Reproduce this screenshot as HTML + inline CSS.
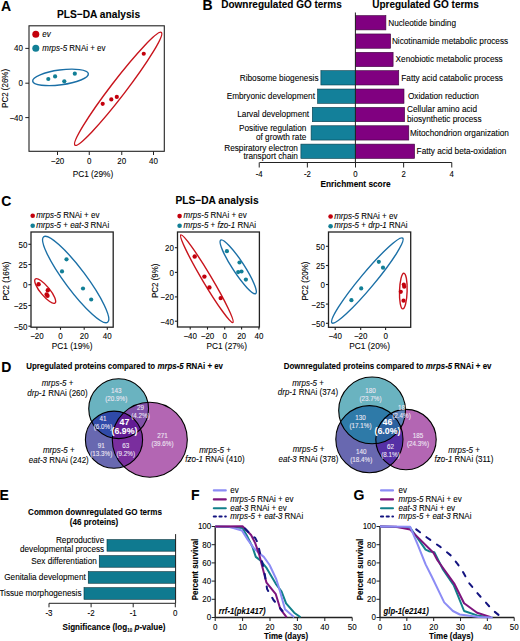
<!DOCTYPE html>
<html><head><meta charset="utf-8"><style>
html,body{margin:0;padding:0;background:#fff;}
svg{display:block;font-family:"Liberation Sans", sans-serif;}
text{font-family:"Liberation Sans", sans-serif;}
</style></head><body>
<svg width="520" height="641" viewBox="0 0 520 641">
<rect width="520" height="641" fill="#fff"/>
<text transform="translate(1.00 10.50) scale(1 1.1)" font-size="14" text-anchor="start" font-weight="bold" fill="#000" stroke="#000" stroke-width="0.08" ><tspan>A</tspan></text>
<text transform="translate(202.60 10.30) scale(1 1.1)" font-size="14" text-anchor="start" font-weight="bold" fill="#000" stroke="#000" stroke-width="0.08" ><tspan>B</tspan></text>
<text transform="translate(1.20 206.30) scale(1 1.1)" font-size="14" text-anchor="start" font-weight="bold" fill="#000" stroke="#000" stroke-width="0.08" ><tspan>C</tspan></text>
<text transform="translate(1.30 371.80) scale(1 1.1)" font-size="14" text-anchor="start" font-weight="bold" fill="#000" stroke="#000" stroke-width="0.08" ><tspan>D</tspan></text>
<text transform="translate(-0.60 500.30) scale(1 1.1)" font-size="14" text-anchor="start" font-weight="bold" fill="#000" stroke="#000" stroke-width="0.08" ><tspan>E</tspan></text>
<text transform="translate(191.10 500.00) scale(1 1.1)" font-size="14" text-anchor="start" font-weight="bold" fill="#000" stroke="#000" stroke-width="0.08" ><tspan>F</tspan></text>
<text transform="translate(353.50 500.30) scale(1 1.1)" font-size="14" text-anchor="start" font-weight="bold" fill="#000" stroke="#000" stroke-width="0.08" ><tspan>G</tspan></text>
<text transform="translate(98.50 17.80) scale(1 1.1)" font-size="10.2" text-anchor="middle" font-weight="bold" fill="#000" stroke="#000" stroke-width="0.08" ><tspan>PLS−DA analysis</tspan></text>
<rect x="29" y="25.8" width="135.3" height="125.5" fill="none" stroke="#222" stroke-width="1.1"/>
<line x1="25.3" y1="48.4" x2="29" y2="48.4" stroke="#222" stroke-width="1" />
<text transform="translate(23.00 51.30) scale(1 1.1)" font-size="8" text-anchor="end" font-weight="normal" fill="#000" stroke="#000" stroke-width="0.08" ><tspan>40</tspan></text>
<line x1="25.3" y1="83.2" x2="29" y2="83.2" stroke="#222" stroke-width="1" />
<text transform="translate(23.00 86.10) scale(1 1.1)" font-size="8" text-anchor="end" font-weight="normal" fill="#000" stroke="#000" stroke-width="0.08" ><tspan>0</tspan></text>
<line x1="25.3" y1="117.6" x2="29" y2="117.6" stroke="#222" stroke-width="1" />
<text transform="translate(23.00 120.50) scale(1 1.1)" font-size="8" text-anchor="end" font-weight="normal" fill="#000" stroke="#000" stroke-width="0.08" ><tspan>−40</tspan></text>
<line x1="57.5" y1="151.3" x2="57.5" y2="155" stroke="#222" stroke-width="1" />
<text transform="translate(57.50 163.80) scale(1 1.1)" font-size="8" text-anchor="middle" font-weight="normal" fill="#000" stroke="#000" stroke-width="0.08" ><tspan>−20</tspan></text>
<line x1="89.25" y1="151.3" x2="89.25" y2="155" stroke="#222" stroke-width="1" />
<text transform="translate(89.25 163.80) scale(1 1.1)" font-size="8" text-anchor="middle" font-weight="normal" fill="#000" stroke="#000" stroke-width="0.08" ><tspan>0</tspan></text>
<line x1="121.75" y1="151.3" x2="121.75" y2="155" stroke="#222" stroke-width="1" />
<text transform="translate(121.75 163.80) scale(1 1.1)" font-size="8" text-anchor="middle" font-weight="normal" fill="#000" stroke="#000" stroke-width="0.08" ><tspan>20</tspan></text>
<line x1="153.5" y1="151.3" x2="153.5" y2="155" stroke="#222" stroke-width="1" />
<text transform="translate(153.50 163.80) scale(1 1.1)" font-size="8" text-anchor="middle" font-weight="normal" fill="#000" stroke="#000" stroke-width="0.08" ><tspan>40</tspan></text>
<text transform="translate(92.90 177.00) scale(1 1.1)" font-size="8.3" text-anchor="middle" font-weight="normal" fill="#000" stroke="#000" stroke-width="0.08" ><tspan>PC1 (29%)</tspan></text>
<text transform="rotate(-90 5.00 88.40) translate(5.00 91.30) scale(1 1.1)" font-size="8" text-anchor="middle" font-weight="normal" fill="#000" stroke="#000" stroke-width="0.08" ><tspan>PC2 (26%)</tspan></text>
<circle cx="35.8" cy="34.2" r="3.5" fill="#c3000c" stroke="none" stroke-width="0"/>
<text transform="translate(42.30 36.90) scale(1 1.1)" font-size="8" text-anchor="start" font-weight="normal" fill="#000" stroke="#000" stroke-width="0.08" ><tspan font-style="italic">ev</tspan></text>
<circle cx="35.8" cy="48.2" r="3.5" fill="#127f96" stroke="none" stroke-width="0"/>
<text transform="translate(42.30 50.80) scale(1 1.1)" font-size="8" text-anchor="start" font-weight="normal" fill="#000" stroke="#000" stroke-width="0.08" ><tspan font-style="italic">mrps-5</tspan><tspan> RNAi + ev</tspan></text>
<ellipse cx="118.18" cy="88.83" rx="71.04" ry="7.55" transform="rotate(-52.53 118.18 88.83)" fill="none" stroke="#c8141c" stroke-width="1.4"/>
<ellipse cx="60.52" cy="77.4" rx="28.06" ry="7.42" transform="rotate(-7.47 60.52 77.4)" fill="none" stroke="#1a6fa6" stroke-width="1.4"/>
<circle cx="102.7" cy="103.8" r="2.1" fill="#c3000c" stroke="none" stroke-width="0"/>
<circle cx="111.3" cy="99.4" r="2.1" fill="#c3000c" stroke="none" stroke-width="0"/>
<circle cx="116.8" cy="96.9" r="2.1" fill="#c3000c" stroke="none" stroke-width="0"/>
<circle cx="143.75" cy="53.75" r="2.1" fill="#c3000c" stroke="none" stroke-width="0"/>
<circle cx="48.3" cy="79" r="2.1" fill="#127f96" stroke="none" stroke-width="0"/>
<circle cx="55.1" cy="76.4" r="2.1" fill="#127f96" stroke="none" stroke-width="0"/>
<circle cx="64.3" cy="81.3" r="2.1" fill="#127f96" stroke="none" stroke-width="0"/>
<circle cx="74.8" cy="73.7" r="2.1" fill="#127f96" stroke="none" stroke-width="0"/>
<text transform="translate(221.25 7.60) scale(1 1.1)" font-size="10" text-anchor="start" font-weight="bold" fill="#000" stroke="#000" stroke-width="0.08" ><tspan>Downregulated GO terms</tspan></text>
<text transform="translate(372.20 8.20) scale(1 1.1)" font-size="10" text-anchor="start" font-weight="bold" fill="#000" stroke="#000" stroke-width="0.08" ><tspan>Upregulated GO terms</tspan></text>
<rect x="355.4" y="15.6" width="30.5" height="14.3" fill="#800080" stroke="#3a003a" stroke-width="0.6"/>
<text transform="translate(388.20 25.65) scale(1 1.1)" font-size="8.25" text-anchor="start" font-weight="normal" fill="#000" stroke="#000" stroke-width="0.08" ><tspan>Nucleotide binding</tspan></text>
<rect x="355.4" y="33.96" width="35.200000000000045" height="14.3" fill="#800080" stroke="#3a003a" stroke-width="0.6"/>
<text transform="translate(391.90 44.01) scale(1 1.1)" font-size="8.25" text-anchor="start" font-weight="normal" fill="#000" stroke="#000" stroke-width="0.08" ><tspan>Nicotinamide metabolic process</tspan></text>
<rect x="355.4" y="52.32" width="37.700000000000045" height="14.3" fill="#800080" stroke="#3a003a" stroke-width="0.6"/>
<text transform="translate(395.60 62.37) scale(1 1.1)" font-size="8.25" text-anchor="start" font-weight="normal" fill="#000" stroke="#000" stroke-width="0.08" ><tspan>Xenobiotic metabolic process</tspan></text>
<rect x="355.4" y="70.67999999999999" width="43.35000000000002" height="14.3" fill="#800080" stroke="#3a003a" stroke-width="0.6"/>
<text transform="translate(401.30 80.73) scale(1 1.1)" font-size="8.25" text-anchor="start" font-weight="normal" fill="#000" stroke="#000" stroke-width="0.08" ><tspan>Fatty acid catabolic process</tspan></text>
<rect x="355.4" y="89.03999999999999" width="48.60000000000002" height="14.3" fill="#800080" stroke="#3a003a" stroke-width="0.6"/>
<text transform="translate(407.90 99.09) scale(1 1.1)" font-size="8.25" text-anchor="start" font-weight="normal" fill="#000" stroke="#000" stroke-width="0.08" ><tspan>Oxidation reduction</tspan></text>
<rect x="355.4" y="107.39999999999999" width="49.200000000000045" height="14.3" fill="#800080" stroke="#3a003a" stroke-width="0.6"/>
<text transform="translate(407.00 112.10) scale(1 1.1)" font-size="8.25" text-anchor="start" font-weight="normal" fill="#000" stroke="#000" stroke-width="0.08" ><tspan>Cellular amino acid</tspan></text>
<text transform="translate(407.00 121.50) scale(1 1.1)" font-size="8.25" text-anchor="start" font-weight="normal" fill="#000" stroke="#000" stroke-width="0.08" ><tspan>biosynthetic process</tspan></text>
<rect x="355.4" y="125.75999999999999" width="53.400000000000034" height="14.3" fill="#800080" stroke="#3a003a" stroke-width="0.6"/>
<text transform="translate(410.00 135.81) scale(1 1.1)" font-size="8.25" text-anchor="start" font-weight="normal" fill="#000" stroke="#000" stroke-width="0.08" ><tspan>Mitochondrion organization</tspan></text>
<rect x="355.4" y="144.11999999999998" width="59.200000000000045" height="14.3" fill="#800080" stroke="#3a003a" stroke-width="0.6"/>
<text transform="translate(416.60 154.17) scale(1 1.1)" font-size="8.25" text-anchor="start" font-weight="normal" fill="#000" stroke="#000" stroke-width="0.08" ><tspan>Fatty acid beta-oxidation</tspan></text>
<rect x="320.9" y="70.67999999999999" width="34.5" height="14.3" fill="#13809a" stroke="#063a48" stroke-width="0.6"/>
<text transform="translate(318.50 80.73) scale(1 1.1)" font-size="8.25" text-anchor="end" font-weight="normal" fill="#000" stroke="#000" stroke-width="0.08" ><tspan>Ribosome biogenesis</tspan></text>
<rect x="317.6" y="89.03999999999999" width="37.799999999999955" height="14.3" fill="#13809a" stroke="#063a48" stroke-width="0.6"/>
<text transform="translate(315.00 99.09) scale(1 1.1)" font-size="8.25" text-anchor="end" font-weight="normal" fill="#000" stroke="#000" stroke-width="0.08" ><tspan>Embryonic development</tspan></text>
<rect x="312.3" y="107.39999999999999" width="43.099999999999966" height="14.3" fill="#13809a" stroke="#063a48" stroke-width="0.6"/>
<text transform="translate(309.10 117.45) scale(1 1.1)" font-size="8.25" text-anchor="end" font-weight="normal" fill="#000" stroke="#000" stroke-width="0.08" ><tspan>Larval development</tspan></text>
<rect x="311.1" y="125.75999999999999" width="44.299999999999955" height="14.3" fill="#13809a" stroke="#063a48" stroke-width="0.6"/>
<text transform="translate(306.30 131.20) scale(1 1.1)" font-size="8.25" text-anchor="end" font-weight="normal" fill="#000" stroke="#000" stroke-width="0.08" ><tspan>Positive regulation</tspan></text>
<text transform="translate(306.30 139.80) scale(1 1.1)" font-size="8.25" text-anchor="end" font-weight="normal" fill="#000" stroke="#000" stroke-width="0.08" ><tspan>of growth rate</tspan></text>
<rect x="300.9" y="144.11999999999998" width="54.5" height="14.3" fill="#13809a" stroke="#063a48" stroke-width="0.6"/>
<text transform="translate(297.90 150.80) scale(1 1.1)" font-size="8.25" text-anchor="end" font-weight="normal" fill="#000" stroke="#000" stroke-width="0.08" ><tspan>Respiratory electron</tspan></text>
<text transform="translate(297.90 159.40) scale(1 1.1)" font-size="8.25" text-anchor="end" font-weight="normal" fill="#000" stroke="#000" stroke-width="0.08" ><tspan>transport chain</tspan></text>
<line x1="355.4" y1="12.5" x2="355.4" y2="162.5" stroke="#222" stroke-width="1" />
<line x1="259.5" y1="162.5" x2="451.75" y2="162.5" stroke="#222" stroke-width="1" />
<line x1="259.22" y1="162.5" x2="259.22" y2="167.5" stroke="#222" stroke-width="1" />
<text transform="translate(259.22 176.50) scale(1 1.1)" font-size="7.8" text-anchor="middle" font-weight="normal" fill="#000" stroke="#000" stroke-width="0.08" ><tspan>-4</tspan></text>
<line x1="307.36" y1="162.5" x2="307.36" y2="167.5" stroke="#222" stroke-width="1" />
<text transform="translate(307.36 176.50) scale(1 1.1)" font-size="7.8" text-anchor="middle" font-weight="normal" fill="#000" stroke="#000" stroke-width="0.08" ><tspan>-2</tspan></text>
<line x1="355.5" y1="162.5" x2="355.5" y2="167.5" stroke="#222" stroke-width="1" />
<text transform="translate(355.50 176.50) scale(1 1.1)" font-size="7.8" text-anchor="middle" font-weight="normal" fill="#000" stroke="#000" stroke-width="0.08" ><tspan>0</tspan></text>
<line x1="403.64" y1="162.5" x2="403.64" y2="167.5" stroke="#222" stroke-width="1" />
<text transform="translate(403.64 176.50) scale(1 1.1)" font-size="7.8" text-anchor="middle" font-weight="normal" fill="#000" stroke="#000" stroke-width="0.08" ><tspan>2</tspan></text>
<line x1="451.78" y1="162.5" x2="451.78" y2="167.5" stroke="#222" stroke-width="1" />
<text transform="translate(451.78 176.50) scale(1 1.1)" font-size="7.8" text-anchor="middle" font-weight="normal" fill="#000" stroke="#000" stroke-width="0.08" ><tspan>4</tspan></text>
<text transform="translate(355.50 187.30) scale(1 1.1)" font-size="8.3" text-anchor="middle" font-weight="bold" fill="#000" stroke="#000" stroke-width="0.08" ><tspan>Enrichment score</tspan></text>
<text transform="translate(217.00 204.30) scale(1 1.1)" font-size="10.2" text-anchor="middle" font-weight="bold" fill="#000" stroke="#000" stroke-width="0.08" ><tspan>PLS−DA analysis</tspan></text>
<rect x="31" y="232" width="82.2" height="95.19999999999999" fill="none" stroke="#222" stroke-width="1.3"/>
<line x1="28.4" y1="244.3" x2="31" y2="244.3" stroke="#222" stroke-width="1.1" />
<text transform="translate(27.40 247.70) scale(1 1.1)" font-size="8" text-anchor="end" font-weight="normal" fill="#000" stroke="#000" stroke-width="0.08" ><tspan>50</tspan></text>
<line x1="28.4" y1="264.5" x2="31" y2="264.5" stroke="#222" stroke-width="1.1" />
<text transform="translate(27.40 267.90) scale(1 1.1)" font-size="8" text-anchor="end" font-weight="normal" fill="#000" stroke="#000" stroke-width="0.08" ><tspan>25</tspan></text>
<line x1="28.4" y1="284.7" x2="31" y2="284.7" stroke="#222" stroke-width="1.1" />
<text transform="translate(27.40 288.10) scale(1 1.1)" font-size="8" text-anchor="end" font-weight="normal" fill="#000" stroke="#000" stroke-width="0.08" ><tspan>0</tspan></text>
<line x1="28.4" y1="305.5" x2="31" y2="305.5" stroke="#222" stroke-width="1.1" />
<text transform="translate(27.40 308.90) scale(1 1.1)" font-size="8" text-anchor="end" font-weight="normal" fill="#000" stroke="#000" stroke-width="0.08" ><tspan>−25</tspan></text>
<line x1="28.4" y1="326.2" x2="31" y2="326.2" stroke="#222" stroke-width="1.1" />
<text transform="translate(27.40 329.60) scale(1 1.1)" font-size="8" text-anchor="end" font-weight="normal" fill="#000" stroke="#000" stroke-width="0.08" ><tspan>−50</tspan></text>
<line x1="36.9" y1="327.2" x2="36.9" y2="329.8" stroke="#222" stroke-width="1.1" />
<text transform="translate(36.90 338.80) scale(1 1.1)" font-size="8" text-anchor="middle" font-weight="normal" fill="#000" stroke="#000" stroke-width="0.08" ><tspan>−20</tspan></text>
<line x1="60.5" y1="327.2" x2="60.5" y2="329.8" stroke="#222" stroke-width="1.1" />
<text transform="translate(60.50 338.80) scale(1 1.1)" font-size="8" text-anchor="middle" font-weight="normal" fill="#000" stroke="#000" stroke-width="0.08" ><tspan>0</tspan></text>
<line x1="84.2" y1="327.2" x2="84.2" y2="329.8" stroke="#222" stroke-width="1.1" />
<text transform="translate(84.20 338.80) scale(1 1.1)" font-size="8" text-anchor="middle" font-weight="normal" fill="#000" stroke="#000" stroke-width="0.08" ><tspan>20</tspan></text>
<line x1="107.3" y1="327.2" x2="107.3" y2="329.8" stroke="#222" stroke-width="1.1" />
<text transform="translate(107.30 338.80) scale(1 1.1)" font-size="8" text-anchor="middle" font-weight="normal" fill="#000" stroke="#000" stroke-width="0.08" ><tspan>40</tspan></text>
<text transform="translate(72.10 348.80) scale(1 1.1)" font-size="8.3" text-anchor="middle" font-weight="normal" fill="#000" stroke="#000" stroke-width="0.08" ><tspan>PC1 (19%)</tspan></text>
<text transform="rotate(-90 6.50 281.00) translate(6.50 283.90) scale(1 1.1)" font-size="8" text-anchor="middle" font-weight="normal" fill="#000" stroke="#000" stroke-width="0.08" ><tspan>PC2 (16%)</tspan></text>
<circle cx="32.7" cy="215.8" r="2.3" fill="#c3000c" stroke="none" stroke-width="0"/>
<text transform="translate(36.20 218.00) scale(1 1.1)" font-size="8" text-anchor="start" font-weight="normal" fill="#000" stroke="#000" stroke-width="0.08" ><tspan font-style="italic">mrps-5</tspan><tspan> RNAi + ev</tspan></text>
<circle cx="32.7" cy="225.8" r="2.3" fill="#127f96" stroke="none" stroke-width="0"/>
<text transform="translate(36.20 228.00) scale(1 1.1)" font-size="8" text-anchor="start" font-weight="normal" fill="#000" stroke="#000" stroke-width="0.08" ><tspan font-style="italic">mrps-5</tspan><tspan> + </tspan><tspan font-style="italic">eat-3</tspan><tspan> RNAi</tspan></text>
<ellipse cx="45.2" cy="291.01" rx="15.5" ry="4.59" transform="rotate(50.53 45.2 291.01)" fill="none" stroke="#c8141c" stroke-width="1.4"/>
<ellipse cx="75.68" cy="279.5" rx="53.38" ry="10.62" transform="rotate(53.21 75.68 279.5)" fill="none" stroke="#1a6fa6" stroke-width="1.4"/>
<circle cx="38.6" cy="284.3" r="2.2" fill="#c3000c" stroke="none" stroke-width="0"/>
<circle cx="47.8" cy="290.2" r="2.2" fill="#c3000c" stroke="none" stroke-width="0"/>
<circle cx="46.6" cy="294.5" r="2.2" fill="#c3000c" stroke="none" stroke-width="0"/>
<circle cx="47.5" cy="295.7" r="2.2" fill="#c3000c" stroke="none" stroke-width="0"/>
<circle cx="66.5" cy="259.3" r="2.1" fill="#127f96" stroke="none" stroke-width="0"/>
<circle cx="62" cy="271.4" r="2.1" fill="#127f96" stroke="none" stroke-width="0"/>
<circle cx="83" cy="288.5" r="2.1" fill="#127f96" stroke="none" stroke-width="0"/>
<circle cx="91.2" cy="299.5" r="2.1" fill="#127f96" stroke="none" stroke-width="0"/>
<rect x="177.5" y="232" width="81.89999999999998" height="95" fill="none" stroke="#222" stroke-width="1.3"/>
<line x1="174.9" y1="247.7" x2="177.5" y2="247.7" stroke="#222" stroke-width="1.1" />
<text transform="translate(173.90 251.10) scale(1 1.1)" font-size="8" text-anchor="end" font-weight="normal" fill="#000" stroke="#000" stroke-width="0.08" ><tspan>20</tspan></text>
<line x1="174.9" y1="272.4" x2="177.5" y2="272.4" stroke="#222" stroke-width="1.1" />
<text transform="translate(173.90 275.80) scale(1 1.1)" font-size="8" text-anchor="end" font-weight="normal" fill="#000" stroke="#000" stroke-width="0.08" ><tspan>0</tspan></text>
<line x1="174.9" y1="296.9" x2="177.5" y2="296.9" stroke="#222" stroke-width="1.1" />
<text transform="translate(173.90 300.30) scale(1 1.1)" font-size="8" text-anchor="end" font-weight="normal" fill="#000" stroke="#000" stroke-width="0.08" ><tspan>−20</tspan></text>
<line x1="174.9" y1="321.2" x2="177.5" y2="321.2" stroke="#222" stroke-width="1.1" />
<text transform="translate(173.90 324.60) scale(1 1.1)" font-size="8" text-anchor="end" font-weight="normal" fill="#000" stroke="#000" stroke-width="0.08" ><tspan>−40</tspan></text>
<line x1="190.2" y1="327" x2="190.2" y2="329.6" stroke="#222" stroke-width="1.1" />
<text transform="translate(190.20 338.60) scale(1 1.1)" font-size="8" text-anchor="middle" font-weight="normal" fill="#000" stroke="#000" stroke-width="0.08" ><tspan>−40</tspan></text>
<line x1="207.5" y1="327" x2="207.5" y2="329.6" stroke="#222" stroke-width="1.1" />
<text transform="translate(207.50 338.60) scale(1 1.1)" font-size="8" text-anchor="middle" font-weight="normal" fill="#000" stroke="#000" stroke-width="0.08" ><tspan>−20</tspan></text>
<line x1="224.7" y1="327" x2="224.7" y2="329.6" stroke="#222" stroke-width="1.1" />
<text transform="translate(224.70 338.60) scale(1 1.1)" font-size="8" text-anchor="middle" font-weight="normal" fill="#000" stroke="#000" stroke-width="0.08" ><tspan>0</tspan></text>
<line x1="241.6" y1="327" x2="241.6" y2="329.6" stroke="#222" stroke-width="1.1" />
<text transform="translate(241.60 338.60) scale(1 1.1)" font-size="8" text-anchor="middle" font-weight="normal" fill="#000" stroke="#000" stroke-width="0.08" ><tspan>20</tspan></text>
<line x1="258.9" y1="327" x2="258.9" y2="329.6" stroke="#222" stroke-width="1.1" />
<text transform="translate(258.90 338.60) scale(1 1.1)" font-size="8" text-anchor="middle" font-weight="normal" fill="#000" stroke="#000" stroke-width="0.08" ><tspan>40</tspan></text>
<text transform="translate(226.70 348.80) scale(1 1.1)" font-size="8.3" text-anchor="middle" font-weight="normal" fill="#000" stroke="#000" stroke-width="0.08" ><tspan>PC1 (27%)</tspan></text>
<text transform="rotate(-90 155.20 280.80) translate(155.20 283.70) scale(1 1.1)" font-size="8" text-anchor="middle" font-weight="normal" fill="#000" stroke="#000" stroke-width="0.08" ><tspan>PC2 (9%)</tspan></text>
<circle cx="179.6" cy="216.1" r="2.3" fill="#c3000c" stroke="none" stroke-width="0"/>
<text transform="translate(183.50 218.30) scale(1 1.1)" font-size="8" text-anchor="start" font-weight="normal" fill="#000" stroke="#000" stroke-width="0.08" ><tspan font-style="italic">mrps-5</tspan><tspan> RNAi + ev</tspan></text>
<circle cx="179.6" cy="225.8" r="2.3" fill="#127f96" stroke="none" stroke-width="0"/>
<text transform="translate(183.50 228.00) scale(1 1.1)" font-size="8" text-anchor="start" font-weight="normal" fill="#000" stroke="#000" stroke-width="0.08" ><tspan font-style="italic">mrps-5</tspan><tspan> + </tspan><tspan font-style="italic">fzo-1</tspan><tspan> RNAi</tspan></text>
<ellipse cx="206.86" cy="278.7" rx="50.9" ry="4.54" transform="rotate(59.28 206.86 278.7)" fill="none" stroke="#c8141c" stroke-width="1.4"/>
<ellipse cx="238.21" cy="266.81" rx="31.95" ry="5.74" transform="rotate(56.84 238.21 266.81)" fill="none" stroke="#1a6fa6" stroke-width="1.4"/>
<circle cx="194.7" cy="256.5" r="2.2" fill="#c3000c" stroke="none" stroke-width="0"/>
<circle cx="204.4" cy="276.6" r="2.2" fill="#c3000c" stroke="none" stroke-width="0"/>
<circle cx="209.4" cy="287.4" r="2.2" fill="#c3000c" stroke="none" stroke-width="0"/>
<circle cx="220.7" cy="298.1" r="2.2" fill="#c3000c" stroke="none" stroke-width="0"/>
<circle cx="226.9" cy="251.2" r="2.1" fill="#127f96" stroke="none" stroke-width="0"/>
<circle cx="239.5" cy="262.5" r="2.1" fill="#127f96" stroke="none" stroke-width="0"/>
<circle cx="238.2" cy="272.1" r="2.1" fill="#127f96" stroke="none" stroke-width="0"/>
<circle cx="241.5" cy="271.5" r="2.1" fill="#127f96" stroke="none" stroke-width="0"/>
<circle cx="245.9" cy="279.6" r="2.1" fill="#127f96" stroke="none" stroke-width="0"/>
<rect x="328.5" y="232" width="82.19999999999999" height="95.30000000000001" fill="none" stroke="#222" stroke-width="1.3"/>
<line x1="325.9" y1="246.3" x2="328.5" y2="246.3" stroke="#222" stroke-width="1.1" />
<text transform="translate(324.90 249.70) scale(1 1.1)" font-size="8" text-anchor="end" font-weight="normal" fill="#000" stroke="#000" stroke-width="0.08" ><tspan>50</tspan></text>
<line x1="325.9" y1="265.5" x2="328.5" y2="265.5" stroke="#222" stroke-width="1.1" />
<text transform="translate(324.90 268.90) scale(1 1.1)" font-size="8" text-anchor="end" font-weight="normal" fill="#000" stroke="#000" stroke-width="0.08" ><tspan>25</tspan></text>
<line x1="325.9" y1="284.5" x2="328.5" y2="284.5" stroke="#222" stroke-width="1.1" />
<text transform="translate(324.90 287.90) scale(1 1.1)" font-size="8" text-anchor="end" font-weight="normal" fill="#000" stroke="#000" stroke-width="0.08" ><tspan>0</tspan></text>
<line x1="325.9" y1="304.1" x2="328.5" y2="304.1" stroke="#222" stroke-width="1.1" />
<text transform="translate(324.90 307.50) scale(1 1.1)" font-size="8" text-anchor="end" font-weight="normal" fill="#000" stroke="#000" stroke-width="0.08" ><tspan>−25</tspan></text>
<line x1="325.9" y1="323.3" x2="328.5" y2="323.3" stroke="#222" stroke-width="1.1" />
<text transform="translate(324.90 326.70) scale(1 1.1)" font-size="8" text-anchor="end" font-weight="normal" fill="#000" stroke="#000" stroke-width="0.08" ><tspan>−50</tspan></text>
<line x1="335.2" y1="327.3" x2="335.2" y2="329.90000000000003" stroke="#222" stroke-width="1.1" />
<text transform="translate(335.20 338.90) scale(1 1.1)" font-size="8" text-anchor="middle" font-weight="normal" fill="#000" stroke="#000" stroke-width="0.08" ><tspan>−40</tspan></text>
<line x1="360.7" y1="327.3" x2="360.7" y2="329.90000000000003" stroke="#222" stroke-width="1.1" />
<text transform="translate(360.70 338.90) scale(1 1.1)" font-size="8" text-anchor="middle" font-weight="normal" fill="#000" stroke="#000" stroke-width="0.08" ><tspan>−20</tspan></text>
<line x1="385.6" y1="327.3" x2="385.6" y2="329.90000000000003" stroke="#222" stroke-width="1.1" />
<text transform="translate(385.60 338.90) scale(1 1.1)" font-size="8" text-anchor="middle" font-weight="normal" fill="#000" stroke="#000" stroke-width="0.08" ><tspan>0</tspan></text>
<text transform="translate(369.60 348.80) scale(1 1.1)" font-size="8.3" text-anchor="middle" font-weight="normal" fill="#000" stroke="#000" stroke-width="0.08" ><tspan>PC1 (20%)</tspan></text>
<text transform="rotate(-90 305.00 281.00) translate(305.00 283.90) scale(1 1.1)" font-size="8" text-anchor="middle" font-weight="normal" fill="#000" stroke="#000" stroke-width="0.08" ><tspan>PC2 (20%)</tspan></text>
<circle cx="330.6" cy="216.5" r="2.3" fill="#c3000c" stroke="none" stroke-width="0"/>
<text transform="translate(334.20 218.70) scale(1 1.1)" font-size="8" text-anchor="start" font-weight="normal" fill="#000" stroke="#000" stroke-width="0.08" ><tspan font-style="italic">mrps-5</tspan><tspan> RNAi + ev</tspan></text>
<circle cx="330.6" cy="226.2" r="2.3" fill="#127f96" stroke="none" stroke-width="0"/>
<text transform="translate(334.20 228.40) scale(1 1.1)" font-size="8" text-anchor="start" font-weight="normal" fill="#000" stroke="#000" stroke-width="0.08" ><tspan font-style="italic">mrps-5</tspan><tspan> + </tspan><tspan font-style="italic">drp-1</tspan><tspan> RNAi</tspan></text>
<ellipse cx="367.35" cy="280.53" rx="55.22" ry="7.26" transform="rotate(-50.21 367.35 280.53)" fill="none" stroke="#1a6fa6" stroke-width="1.4"/>
<ellipse cx="403.32" cy="291.05" rx="17.88" ry="3.81" transform="rotate(-88.3 403.32 291.05)" fill="none" stroke="#c8141c" stroke-width="1.4"/>
<circle cx="403.8" cy="284.5" r="2.1" fill="#c3000c" stroke="none" stroke-width="0"/>
<circle cx="404.2" cy="286.7" r="2.1" fill="#c3000c" stroke="none" stroke-width="0"/>
<circle cx="400.8" cy="291.8" r="2.1" fill="#c3000c" stroke="none" stroke-width="0"/>
<circle cx="403.5" cy="300.7" r="2.1" fill="#c3000c" stroke="none" stroke-width="0"/>
<circle cx="378.8" cy="261.8" r="2.1" fill="#127f96" stroke="none" stroke-width="0"/>
<circle cx="383" cy="267.7" r="2.1" fill="#127f96" stroke="none" stroke-width="0"/>
<circle cx="361.2" cy="288.4" r="2.1" fill="#127f96" stroke="none" stroke-width="0"/>
<circle cx="351.4" cy="300.2" r="2.1" fill="#127f96" stroke="none" stroke-width="0"/>
<text transform="translate(26.25 368.80) scale(1 1.1)" font-size="7.9" text-anchor="start" font-weight="normal" fill="#000" stroke="#000" stroke-width="0.08" ><tspan font-weight="bold">Upregulated proteins compared to </tspan><tspan font-style="italic" font-weight="bold">mrps-5</tspan><tspan font-weight="bold"> RNAi + ev</tspan></text>
<text transform="translate(283.75 368.50) scale(1 1.1)" font-size="7.9" text-anchor="start" font-weight="normal" fill="#000" stroke="#000" stroke-width="0.08" ><tspan font-weight="bold">Downregulated proteins compared to </tspan><tspan font-style="italic" font-weight="bold">mrps-5</tspan><tspan font-weight="bold"> RNAi + ev</tspan></text>
<defs><clipPath id="tu"><circle cx="118.65" cy="408.7" r="29.9"/></clipPath><clipPath id="lu"><circle cx="114.0" cy="439.7" r="28.6"/></clipPath><clipPath id="ru"><circle cx="149.8" cy="439.7" r="37.5"/></clipPath></defs>
<circle cx="118.65" cy="408.7" r="29.9" fill="#6ab3c0" stroke="none" stroke-width="0"/>
<circle cx="114.0" cy="439.7" r="28.6" fill="#6868b0" stroke="none" stroke-width="0"/>
<circle cx="149.8" cy="439.7" r="37.5" fill="#b366b3" stroke="none" stroke-width="0"/>
<g clip-path="url(#tu)"><circle cx="114.0" cy="439.7" r="28.6" fill="#2f4aa8"/><circle cx="149.8" cy="439.7" r="37.5" fill="#8050a8"/></g>
<g clip-path="url(#lu)"><circle cx="149.8" cy="439.7" r="37.5" fill="#7a2e9e"/></g>
<g clip-path="url(#tu)"><g clip-path="url(#lu)"><circle cx="149.8" cy="439.7" r="37.5" fill="#621c94"/></g></g>
<circle cx="118.65" cy="408.7" r="29.9" fill="none" stroke="#000" stroke-width="1.1"/>
<circle cx="114.0" cy="439.7" r="28.6" fill="none" stroke="#000" stroke-width="1.1"/>
<circle cx="149.8" cy="439.7" r="37.5" fill="none" stroke="#000" stroke-width="1.1"/>
<text transform="translate(116.25 392.90) scale(1 1.1)" font-size="6.3" text-anchor="middle" font-weight="normal" fill="#eee8f4" stroke="#eee8f4" stroke-width="0.08" ><tspan>143</tspan></text>
<text transform="translate(116.25 400.60) scale(1 1.1)" font-size="6.3" text-anchor="middle" font-weight="normal" fill="#eee8f4" stroke="#eee8f4" stroke-width="0.08" ><tspan>(20.9%)</tspan></text>
<text transform="translate(140.50 410.40) scale(1 1.1)" font-size="6.3" text-anchor="middle" font-weight="normal" fill="#eee8f4" stroke="#eee8f4" stroke-width="0.08" ><tspan>29</tspan></text>
<text transform="translate(140.50 418.10) scale(1 1.1)" font-size="6.3" text-anchor="middle" font-weight="normal" fill="#eee8f4" stroke="#eee8f4" stroke-width="0.08" ><tspan>(4.2%)</tspan></text>
<text transform="translate(103.00 420.90) scale(1 1.1)" font-size="6.3" text-anchor="middle" font-weight="normal" fill="#eee8f4" stroke="#eee8f4" stroke-width="0.08" ><tspan>41</tspan></text>
<text transform="translate(103.00 428.60) scale(1 1.1)" font-size="6.3" text-anchor="middle" font-weight="normal" fill="#eee8f4" stroke="#eee8f4" stroke-width="0.08" ><tspan>(6.0%)</tspan></text>
<text transform="translate(124.50 424.90) scale(1 1.1)" font-size="8.8" text-anchor="middle" font-weight="bold" fill="#fff" stroke="#fff" stroke-width="0.08" ><tspan>47</tspan></text>
<text transform="translate(124.50 434.10) scale(1 1.1)" font-size="8.8" text-anchor="middle" font-weight="bold" fill="#fff" stroke="#fff" stroke-width="0.08" ><tspan>(6.9%)</tspan></text>
<text transform="translate(162.50 438.40) scale(1 1.1)" font-size="6.3" text-anchor="middle" font-weight="normal" fill="#eee8f4" stroke="#eee8f4" stroke-width="0.08" ><tspan>271</tspan></text>
<text transform="translate(162.50 446.10) scale(1 1.1)" font-size="6.3" text-anchor="middle" font-weight="normal" fill="#eee8f4" stroke="#eee8f4" stroke-width="0.08" ><tspan>(39.6%)</tspan></text>
<text transform="translate(101.25 447.90) scale(1 1.1)" font-size="6.3" text-anchor="middle" font-weight="normal" fill="#eee8f4" stroke="#eee8f4" stroke-width="0.08" ><tspan>91</tspan></text>
<text transform="translate(101.25 455.60) scale(1 1.1)" font-size="6.3" text-anchor="middle" font-weight="normal" fill="#eee8f4" stroke="#eee8f4" stroke-width="0.08" ><tspan>(13.3%)</tspan></text>
<text transform="translate(125.75 447.90) scale(1 1.1)" font-size="6.3" text-anchor="middle" font-weight="normal" fill="#eee8f4" stroke="#eee8f4" stroke-width="0.08" ><tspan>63</tspan></text>
<text transform="translate(125.75 455.60) scale(1 1.1)" font-size="6.3" text-anchor="middle" font-weight="normal" fill="#eee8f4" stroke="#eee8f4" stroke-width="0.08" ><tspan>(9.2%)</tspan></text>
<defs><clipPath id="td"><circle cx="372.1" cy="410.4" r="33.4"/></clipPath><clipPath id="ld"><circle cx="369.4" cy="439.2" r="33.6"/></clipPath><clipPath id="rd"><circle cx="406.0" cy="439.6" r="30.2"/></clipPath></defs>
<circle cx="372.1" cy="410.4" r="33.4" fill="#6ab3c0" stroke="none" stroke-width="0"/>
<circle cx="369.4" cy="439.2" r="33.6" fill="#6868b0" stroke="none" stroke-width="0"/>
<circle cx="406.0" cy="439.6" r="30.2" fill="#b366b3" stroke="none" stroke-width="0"/>
<g clip-path="url(#td)"><circle cx="369.4" cy="439.2" r="33.6" fill="#2e7aa8"/><circle cx="406.0" cy="439.6" r="30.2" fill="#5a82b8"/></g>
<g clip-path="url(#ld)"><circle cx="406.0" cy="439.6" r="30.2" fill="#5530a5"/></g>
<g clip-path="url(#td)"><g clip-path="url(#ld)"><circle cx="406.0" cy="439.6" r="30.2" fill="#2b62a0"/></g></g>
<circle cx="372.1" cy="410.4" r="33.4" fill="none" stroke="#000" stroke-width="1.1"/>
<circle cx="369.4" cy="439.2" r="33.6" fill="none" stroke="#000" stroke-width="1.1"/>
<circle cx="406.0" cy="439.6" r="30.2" fill="none" stroke="#000" stroke-width="1.1"/>
<text transform="translate(370.50 392.90) scale(1 1.1)" font-size="6.3" text-anchor="middle" font-weight="normal" fill="#eee8f4" stroke="#eee8f4" stroke-width="0.08" ><tspan>180</tspan></text>
<text transform="translate(370.50 400.60) scale(1 1.1)" font-size="6.3" text-anchor="middle" font-weight="normal" fill="#eee8f4" stroke="#eee8f4" stroke-width="0.08" ><tspan>(23.7%)</tspan></text>
<text transform="translate(401.50 409.90) scale(1 1.1)" font-size="6.3" text-anchor="middle" font-weight="normal" fill="#eee8f4" stroke="#eee8f4" stroke-width="0.08" ><tspan>18</tspan></text>
<text transform="translate(401.50 417.60) scale(1 1.1)" font-size="6.3" text-anchor="middle" font-weight="normal" fill="#eee8f4" stroke="#eee8f4" stroke-width="0.08" ><tspan>(2.4%)</tspan></text>
<text transform="translate(360.50 420.40) scale(1 1.1)" font-size="6.3" text-anchor="middle" font-weight="normal" fill="#eee8f4" stroke="#eee8f4" stroke-width="0.08" ><tspan>130</tspan></text>
<text transform="translate(360.50 428.10) scale(1 1.1)" font-size="6.3" text-anchor="middle" font-weight="normal" fill="#eee8f4" stroke="#eee8f4" stroke-width="0.08" ><tspan>(17.1%)</tspan></text>
<text transform="translate(387.50 424.90) scale(1 1.1)" font-size="8.8" text-anchor="middle" font-weight="bold" fill="#fff" stroke="#fff" stroke-width="0.08" ><tspan>46</tspan></text>
<text transform="translate(387.50 434.10) scale(1 1.1)" font-size="8.8" text-anchor="middle" font-weight="bold" fill="#fff" stroke="#fff" stroke-width="0.08" ><tspan>(6.0%)</tspan></text>
<text transform="translate(418.00 438.40) scale(1 1.1)" font-size="6.3" text-anchor="middle" font-weight="normal" fill="#eee8f4" stroke="#eee8f4" stroke-width="0.08" ><tspan>185</tspan></text>
<text transform="translate(418.00 446.10) scale(1 1.1)" font-size="6.3" text-anchor="middle" font-weight="normal" fill="#eee8f4" stroke="#eee8f4" stroke-width="0.08" ><tspan>(24.3%)</tspan></text>
<text transform="translate(361.25 454.15) scale(1 1.1)" font-size="6.3" text-anchor="middle" font-weight="normal" fill="#eee8f4" stroke="#eee8f4" stroke-width="0.08" ><tspan>140</tspan></text>
<text transform="translate(361.25 461.85) scale(1 1.1)" font-size="6.3" text-anchor="middle" font-weight="normal" fill="#eee8f4" stroke="#eee8f4" stroke-width="0.08" ><tspan>(18.4%)</tspan></text>
<text transform="translate(390.50 448.90) scale(1 1.1)" font-size="6.3" text-anchor="middle" font-weight="normal" fill="#eee8f4" stroke="#eee8f4" stroke-width="0.08" ><tspan>62</tspan></text>
<text transform="translate(390.50 456.60) scale(1 1.1)" font-size="6.3" text-anchor="middle" font-weight="normal" fill="#eee8f4" stroke="#eee8f4" stroke-width="0.08" ><tspan>(8.1%)</tspan></text>
<text transform="translate(57.50 385.50) scale(1 1.1)" font-size="8" text-anchor="middle" font-weight="normal" fill="#000" stroke="#000" stroke-width="0.08" ><tspan font-style="italic">mrps-5</tspan><tspan> +</tspan></text>
<text transform="translate(57.50 395.90) scale(1 1.1)" font-size="8" text-anchor="middle" font-weight="normal" fill="#000" stroke="#000" stroke-width="0.08" ><tspan font-style="italic">drp-1</tspan><tspan> RNAi (260)</tspan></text>
<text transform="translate(58.80 453.10) scale(1 1.1)" font-size="8" text-anchor="middle" font-weight="normal" fill="#000" stroke="#000" stroke-width="0.08" ><tspan font-style="italic">mrps-5</tspan><tspan> +</tspan></text>
<text transform="translate(58.80 463.10) scale(1 1.1)" font-size="8" text-anchor="middle" font-weight="normal" fill="#000" stroke="#000" stroke-width="0.08" ><tspan font-style="italic">eat-3</tspan><tspan> RNAi (242)</tspan></text>
<text transform="translate(215.00 452.90) scale(1 1.1)" font-size="8" text-anchor="middle" font-weight="normal" fill="#000" stroke="#000" stroke-width="0.08" ><tspan font-style="italic">mrps-5</tspan><tspan> +</tspan></text>
<text transform="translate(215.00 462.40) scale(1 1.1)" font-size="8" text-anchor="middle" font-weight="normal" fill="#000" stroke="#000" stroke-width="0.08" ><tspan font-style="italic">fzo-1</tspan><tspan> RNAi (410)</tspan></text>
<text transform="translate(308.00 386.15) scale(1 1.1)" font-size="8" text-anchor="middle" font-weight="normal" fill="#000" stroke="#000" stroke-width="0.08" ><tspan font-style="italic">mrps-5</tspan><tspan> +</tspan></text>
<text transform="translate(308.00 395.40) scale(1 1.1)" font-size="8" text-anchor="middle" font-weight="normal" fill="#000" stroke="#000" stroke-width="0.08" ><tspan font-style="italic">drp-1</tspan><tspan> RNAi (374)</tspan></text>
<text transform="translate(308.50 452.40) scale(1 1.1)" font-size="8" text-anchor="middle" font-weight="normal" fill="#000" stroke="#000" stroke-width="0.08" ><tspan font-style="italic">mrps-5</tspan><tspan> +</tspan></text>
<text transform="translate(308.50 462.40) scale(1 1.1)" font-size="8" text-anchor="middle" font-weight="normal" fill="#000" stroke="#000" stroke-width="0.08" ><tspan font-style="italic">eat-3</tspan><tspan> RNAi (378)</tspan></text>
<text transform="translate(464.00 452.90) scale(1 1.1)" font-size="8" text-anchor="middle" font-weight="normal" fill="#000" stroke="#000" stroke-width="0.08" ><tspan font-style="italic">mrps-5</tspan><tspan> +</tspan></text>
<text transform="translate(464.00 462.40) scale(1 1.1)" font-size="8" text-anchor="middle" font-weight="normal" fill="#000" stroke="#000" stroke-width="0.08" ><tspan font-style="italic">fzo-1</tspan><tspan> RNAi (311)</tspan></text>
<text transform="translate(95.00 514.80) scale(1 1.1)" font-size="8.1" text-anchor="middle" font-weight="bold" fill="#000" stroke="#000" stroke-width="0.08" ><tspan>Common downregulated GO terms</tspan></text>
<text transform="translate(94.00 525.30) scale(1 1.1)" font-size="8.1" text-anchor="middle" font-weight="bold" fill="#000" stroke="#000" stroke-width="0.08" ><tspan>(46 proteins)</tspan></text>
<rect x="107" y="539.6" width="68.6" height="11.6" fill="#0f7a90" stroke="#05303a" stroke-width="0.6"/>
<text transform="translate(104.20 543.10) scale(1 1.1)" font-size="8.2" text-anchor="end" font-weight="normal" fill="#000" stroke="#000" stroke-width="0.08" ><tspan>Reproductive</tspan></text>
<text transform="translate(104.20 551.70) scale(1 1.1)" font-size="8.2" text-anchor="end" font-weight="normal" fill="#000" stroke="#000" stroke-width="0.08" ><tspan>developmental process</tspan></text>
<rect x="99.25" y="555.63" width="76.35" height="11.6" fill="#0f7a90" stroke="#05303a" stroke-width="0.6"/>
<text transform="translate(96.75 564.33) scale(1 1.1)" font-size="8.2" text-anchor="end" font-weight="normal" fill="#000" stroke="#000" stroke-width="0.08" ><tspan>Sex differentiation</tspan></text>
<rect x="88.25" y="571.6600000000001" width="87.35" height="11.6" fill="#0f7a90" stroke="#05303a" stroke-width="0.6"/>
<text transform="translate(85.75 580.36) scale(1 1.1)" font-size="8.2" text-anchor="end" font-weight="normal" fill="#000" stroke="#000" stroke-width="0.08" ><tspan>Genitalia development</tspan></text>
<rect x="84" y="587.69" width="91.6" height="11.6" fill="#0f7a90" stroke="#05303a" stroke-width="0.6"/>
<text transform="translate(81.50 596.39) scale(1 1.1)" font-size="8.2" text-anchor="end" font-weight="normal" fill="#000" stroke="#000" stroke-width="0.08" ><tspan>Tissue morphogenesis</tspan></text>
<line x1="175.6" y1="534.1" x2="175.6" y2="603.3" stroke="#222" stroke-width="1" />
<line x1="49" y1="603.3" x2="175.6" y2="603.3" stroke="#222" stroke-width="1" />
<line x1="49.0" y1="603.3" x2="49.0" y2="607.3" stroke="#222" stroke-width="1" />
<text transform="translate(49.00 615.60) scale(1 1.1)" font-size="8" text-anchor="middle" font-weight="normal" fill="#000" stroke="#000" stroke-width="0.08" ><tspan>-3</tspan></text>
<line x1="91.10000000000001" y1="603.3" x2="91.10000000000001" y2="607.3" stroke="#222" stroke-width="1" />
<text transform="translate(91.10 615.60) scale(1 1.1)" font-size="8" text-anchor="middle" font-weight="normal" fill="#000" stroke="#000" stroke-width="0.08" ><tspan>-2</tspan></text>
<line x1="133.20000000000002" y1="603.3" x2="133.20000000000002" y2="607.3" stroke="#222" stroke-width="1" />
<text transform="translate(133.20 615.60) scale(1 1.1)" font-size="8" text-anchor="middle" font-weight="normal" fill="#000" stroke="#000" stroke-width="0.08" ><tspan>-1</tspan></text>
<line x1="175.3" y1="603.3" x2="175.3" y2="607.3" stroke="#222" stroke-width="1" />
<text transform="translate(175.30 615.60) scale(1 1.1)" font-size="8" text-anchor="middle" font-weight="normal" fill="#000" stroke="#000" stroke-width="0.08" ><tspan>0</tspan></text>
<text transform="translate(62.5 629.8) scale(1 1.1)" font-size="8.1" font-weight="bold" stroke="#000" stroke-width="0.08">Significance (log<tspan font-size="4.5" dy="1.8">10</tspan><tspan dy="-1.8"> </tspan><tspan font-style="italic">p</tspan>-value)</text>
<line x1="213.8" y1="490.4" x2="225.8" y2="490.4" stroke="#8c8cf5" stroke-width="2.1" stroke-linecap="round"/>
<text transform="translate(230.20 493.30) scale(1 1.1)" font-size="8" text-anchor="start" font-weight="normal" fill="#000" stroke="#000" stroke-width="0.08" ><tspan>ev</tspan></text>
<line x1="213.8" y1="499.4" x2="225.8" y2="499.4" stroke="#7d147d" stroke-width="2.1" stroke-linecap="round"/>
<text transform="translate(230.20 502.30) scale(1 1.1)" font-size="8" text-anchor="start" font-weight="normal" fill="#000" stroke="#000" stroke-width="0.08" ><tspan font-style="italic">mrps-5</tspan><tspan> RNAi + ev</tspan></text>
<line x1="213.8" y1="508.2" x2="225.8" y2="508.2" stroke="#11808a" stroke-width="2.1" stroke-linecap="round"/>
<text transform="translate(230.20 511.10) scale(1 1.1)" font-size="8" text-anchor="start" font-weight="normal" fill="#000" stroke="#000" stroke-width="0.08" ><tspan font-style="italic">eat-3</tspan><tspan> RNAi + ev</tspan></text>
<line x1="213.8" y1="516.5" x2="225.8" y2="516.5" stroke="#141480" stroke-width="2.1" stroke-dasharray="2.1 3.6" stroke-linecap="round"/>
<text transform="translate(230.20 519.40) scale(1 1.1)" font-size="8" text-anchor="start" font-weight="normal" fill="#000" stroke="#000" stroke-width="0.08" ><tspan font-style="italic">mrps-5</tspan><tspan> + </tspan><tspan font-style="italic">eat-3</tspan><tspan> RNAi</tspan></text>
<line x1="215.2" y1="526.0" x2="215.2" y2="617.5" stroke="#222" stroke-width="1.4" />
<line x1="215.2" y1="617.5" x2="352.2" y2="617.5" stroke="#222" stroke-width="1.4" />
<line x1="211.7" y1="617.5" x2="215.2" y2="617.5" stroke="#222" stroke-width="1" />
<text transform="translate(211.20 620.40) scale(1 1.1)" font-size="8" text-anchor="end" font-weight="normal" fill="#000" stroke="#000" stroke-width="0.08" ><tspan>0</tspan></text>
<line x1="211.7" y1="599.3" x2="215.2" y2="599.3" stroke="#222" stroke-width="1" />
<text transform="translate(211.20 602.20) scale(1 1.1)" font-size="8" text-anchor="end" font-weight="normal" fill="#000" stroke="#000" stroke-width="0.08" ><tspan>20</tspan></text>
<line x1="211.7" y1="581.1" x2="215.2" y2="581.1" stroke="#222" stroke-width="1" />
<text transform="translate(211.20 584.00) scale(1 1.1)" font-size="8" text-anchor="end" font-weight="normal" fill="#000" stroke="#000" stroke-width="0.08" ><tspan>40</tspan></text>
<line x1="211.7" y1="562.9" x2="215.2" y2="562.9" stroke="#222" stroke-width="1" />
<text transform="translate(211.20 565.80) scale(1 1.1)" font-size="8" text-anchor="end" font-weight="normal" fill="#000" stroke="#000" stroke-width="0.08" ><tspan>60</tspan></text>
<line x1="211.7" y1="544.7" x2="215.2" y2="544.7" stroke="#222" stroke-width="1" />
<text transform="translate(211.20 547.60) scale(1 1.1)" font-size="8" text-anchor="end" font-weight="normal" fill="#000" stroke="#000" stroke-width="0.08" ><tspan>80</tspan></text>
<line x1="211.7" y1="526.5" x2="215.2" y2="526.5" stroke="#222" stroke-width="1" />
<text transform="translate(211.20 529.40) scale(1 1.1)" font-size="8" text-anchor="end" font-weight="normal" fill="#000" stroke="#000" stroke-width="0.08" ><tspan>100</tspan></text>
<line x1="215.2" y1="617.5" x2="215.2" y2="621.0" stroke="#222" stroke-width="1" />
<text transform="translate(215.20 630.00) scale(1 1.1)" font-size="8" text-anchor="middle" font-weight="normal" fill="#000" stroke="#000" stroke-width="0.08" ><tspan>0</tspan></text>
<line x1="242.6" y1="617.5" x2="242.6" y2="621.0" stroke="#222" stroke-width="1" />
<text transform="translate(242.60 630.00) scale(1 1.1)" font-size="8" text-anchor="middle" font-weight="normal" fill="#000" stroke="#000" stroke-width="0.08" ><tspan>10</tspan></text>
<line x1="270.0" y1="617.5" x2="270.0" y2="621.0" stroke="#222" stroke-width="1" />
<text transform="translate(270.00 630.00) scale(1 1.1)" font-size="8" text-anchor="middle" font-weight="normal" fill="#000" stroke="#000" stroke-width="0.08" ><tspan>20</tspan></text>
<line x1="297.4" y1="617.5" x2="297.4" y2="621.0" stroke="#222" stroke-width="1" />
<text transform="translate(297.40 630.00) scale(1 1.1)" font-size="8" text-anchor="middle" font-weight="normal" fill="#000" stroke="#000" stroke-width="0.08" ><tspan>30</tspan></text>
<line x1="324.8" y1="617.5" x2="324.8" y2="621.0" stroke="#222" stroke-width="1" />
<text transform="translate(324.80 630.00) scale(1 1.1)" font-size="8" text-anchor="middle" font-weight="normal" fill="#000" stroke="#000" stroke-width="0.08" ><tspan>40</tspan></text>
<line x1="352.2" y1="617.5" x2="352.2" y2="621.0" stroke="#222" stroke-width="1" />
<text transform="translate(352.20 630.00) scale(1 1.1)" font-size="8" text-anchor="middle" font-weight="normal" fill="#000" stroke="#000" stroke-width="0.08" ><tspan>50</tspan></text>
<text transform="translate(286.10 639.30) scale(1 1.1)" font-size="8" text-anchor="middle" font-weight="bold" fill="#000" stroke="#000" stroke-width="0.08" ><tspan>Time (days)</tspan></text>
<text transform="rotate(-90 195.40 569.50) translate(195.40 572.40) scale(1 1.1)" font-size="8" text-anchor="middle" font-weight="bold" fill="#000" stroke="#000" stroke-width="0.08" ><tspan>Percent survival</tspan></text>
<text transform="translate(218.80 613.70) scale(1 1.1)" font-size="7.75" text-anchor="start" font-weight="normal" fill="#000" stroke="#000" stroke-width="0.08" ><tspan font-style="italic" font-weight="bold">rrf-1(pk1417)</tspan></text>
<polyline points="215.2,526.5 235,527.3 242.5,528.1 246.5,535 252.3,546.5 255.8,556.9 260.4,560.4 266.1,567.3 275.8,583.8 281.5,591.3 286.1,603.4 294.2,612.7 300.6,617.3" fill="none" stroke="#11808a" stroke-width="2" stroke-linejoin="round" />
<polyline points="215.2,526.5 229,526.8 241.9,530.5 247.7,539.6 253.5,547.7 258.1,552.3 263.8,556.9 269.6,565 276.3,579.2 279.2,588.5 285,609.2 294.2,617.3" fill="none" stroke="#8c8cf5" stroke-width="2" stroke-linejoin="round" />
<polyline points="215.2,526.5 242.5,526.3 251.1,535 255.2,543.1 259.2,554.6 262.1,566.1 266.5,582.7 275.8,594.2 280.4,609.2 286.7,617.3" fill="none" stroke="#7d147d" stroke-width="2" stroke-linejoin="round" />
<polyline points="245,528.5 252.3,536.1 255.2,537.9 257.5,542.5 259.2,549.4 261.5,559.2 264.4,571.9 267.1,589 273.5,600 282.5,611" fill="none" stroke="#141480" stroke-width="2" stroke-linejoin="round" stroke-dasharray="4.8 8" stroke-linecap="round"/>
<line x1="381" y1="490.4" x2="393" y2="490.4" stroke="#8c8cf5" stroke-width="2.1" stroke-linecap="round"/>
<text transform="translate(398.50 493.30) scale(1 1.1)" font-size="8" text-anchor="start" font-weight="normal" fill="#000" stroke="#000" stroke-width="0.08" ><tspan>ev</tspan></text>
<line x1="381" y1="499.4" x2="393" y2="499.4" stroke="#7d147d" stroke-width="2.1" stroke-linecap="round"/>
<text transform="translate(398.50 502.30) scale(1 1.1)" font-size="8" text-anchor="start" font-weight="normal" fill="#000" stroke="#000" stroke-width="0.08" ><tspan font-style="italic">mrps-5</tspan><tspan> RNAi + ev</tspan></text>
<line x1="381" y1="508.2" x2="393" y2="508.2" stroke="#11808a" stroke-width="2.1" stroke-linecap="round"/>
<text transform="translate(398.50 511.10) scale(1 1.1)" font-size="8" text-anchor="start" font-weight="normal" fill="#000" stroke="#000" stroke-width="0.08" ><tspan font-style="italic">eat-3</tspan><tspan> RNAi + ev</tspan></text>
<line x1="381" y1="516.5" x2="393" y2="516.5" stroke="#141480" stroke-width="2.1" stroke-dasharray="2.1 3.6" stroke-linecap="round"/>
<text transform="translate(398.50 519.40) scale(1 1.1)" font-size="8" text-anchor="start" font-weight="normal" fill="#000" stroke="#000" stroke-width="0.08" ><tspan font-style="italic">mrps-5</tspan><tspan> + </tspan><tspan font-style="italic">eat-3</tspan><tspan> RNAi</tspan></text>
<line x1="380" y1="526.0" x2="380" y2="617.5" stroke="#222" stroke-width="1.4" />
<line x1="380" y1="617.5" x2="514.2" y2="617.5" stroke="#222" stroke-width="1.4" />
<line x1="376.5" y1="617.5" x2="380" y2="617.5" stroke="#222" stroke-width="1" />
<text transform="translate(376.00 620.40) scale(1 1.1)" font-size="8" text-anchor="end" font-weight="normal" fill="#000" stroke="#000" stroke-width="0.08" ><tspan>0</tspan></text>
<line x1="376.5" y1="599.3" x2="380" y2="599.3" stroke="#222" stroke-width="1" />
<text transform="translate(376.00 602.20) scale(1 1.1)" font-size="8" text-anchor="end" font-weight="normal" fill="#000" stroke="#000" stroke-width="0.08" ><tspan>20</tspan></text>
<line x1="376.5" y1="581.1" x2="380" y2="581.1" stroke="#222" stroke-width="1" />
<text transform="translate(376.00 584.00) scale(1 1.1)" font-size="8" text-anchor="end" font-weight="normal" fill="#000" stroke="#000" stroke-width="0.08" ><tspan>40</tspan></text>
<line x1="376.5" y1="562.9" x2="380" y2="562.9" stroke="#222" stroke-width="1" />
<text transform="translate(376.00 565.80) scale(1 1.1)" font-size="8" text-anchor="end" font-weight="normal" fill="#000" stroke="#000" stroke-width="0.08" ><tspan>60</tspan></text>
<line x1="376.5" y1="544.7" x2="380" y2="544.7" stroke="#222" stroke-width="1" />
<text transform="translate(376.00 547.60) scale(1 1.1)" font-size="8" text-anchor="end" font-weight="normal" fill="#000" stroke="#000" stroke-width="0.08" ><tspan>80</tspan></text>
<line x1="376.5" y1="526.5" x2="380" y2="526.5" stroke="#222" stroke-width="1" />
<text transform="translate(376.00 529.40) scale(1 1.1)" font-size="8" text-anchor="end" font-weight="normal" fill="#000" stroke="#000" stroke-width="0.08" ><tspan>100</tspan></text>
<line x1="380.0" y1="617.5" x2="380.0" y2="621.0" stroke="#222" stroke-width="1" />
<text transform="translate(380.00 630.00) scale(1 1.1)" font-size="8" text-anchor="middle" font-weight="normal" fill="#000" stroke="#000" stroke-width="0.08" ><tspan>0</tspan></text>
<line x1="406.84000000000003" y1="617.5" x2="406.84000000000003" y2="621.0" stroke="#222" stroke-width="1" />
<text transform="translate(406.84 630.00) scale(1 1.1)" font-size="8" text-anchor="middle" font-weight="normal" fill="#000" stroke="#000" stroke-width="0.08" ><tspan>10</tspan></text>
<line x1="433.68" y1="617.5" x2="433.68" y2="621.0" stroke="#222" stroke-width="1" />
<text transform="translate(433.68 630.00) scale(1 1.1)" font-size="8" text-anchor="middle" font-weight="normal" fill="#000" stroke="#000" stroke-width="0.08" ><tspan>20</tspan></text>
<line x1="460.52" y1="617.5" x2="460.52" y2="621.0" stroke="#222" stroke-width="1" />
<text transform="translate(460.52 630.00) scale(1 1.1)" font-size="8" text-anchor="middle" font-weight="normal" fill="#000" stroke="#000" stroke-width="0.08" ><tspan>30</tspan></text>
<line x1="487.36" y1="617.5" x2="487.36" y2="621.0" stroke="#222" stroke-width="1" />
<text transform="translate(487.36 630.00) scale(1 1.1)" font-size="8" text-anchor="middle" font-weight="normal" fill="#000" stroke="#000" stroke-width="0.08" ><tspan>40</tspan></text>
<line x1="514.2" y1="617.5" x2="514.2" y2="621.0" stroke="#222" stroke-width="1" />
<text transform="translate(514.20 630.00) scale(1 1.1)" font-size="8" text-anchor="middle" font-weight="normal" fill="#000" stroke="#000" stroke-width="0.08" ><tspan>50</tspan></text>
<text transform="translate(451.20 639.30) scale(1 1.1)" font-size="8" text-anchor="middle" font-weight="bold" fill="#000" stroke="#000" stroke-width="0.08" ><tspan>Time (days)</tspan></text>
<text transform="rotate(-90 360.20 569.50) translate(360.20 572.40) scale(1 1.1)" font-size="8" text-anchor="middle" font-weight="bold" fill="#000" stroke="#000" stroke-width="0.08" ><tspan>Percent survival</tspan></text>
<text transform="translate(383.60 613.70) scale(1 1.1)" font-size="7.75" text-anchor="start" font-weight="normal" fill="#000" stroke="#000" stroke-width="0.08" ><tspan font-style="italic" font-weight="bold">glp-1(e2141)</tspan></text>
<polyline points="380,526.5 410.1,527.5 416.2,536.2 425.6,549.6 428.9,551.2 434.3,552.3 443.1,569.8 453.7,585.1 464.1,611 477.1,615.4 487.5,617.1" fill="none" stroke="#11808a" stroke-width="2" stroke-linejoin="round" />
<polyline points="380,526.5 396,526.8 410.1,529.6 433.6,553 437.3,560 454.6,584.2 464.1,603.3 477.1,612.8 490.9,617.1" fill="none" stroke="#7d147d" stroke-width="2" stroke-linejoin="round" />
<polyline points="380,526.5 410.1,526.7 417.5,544.2 425.6,564.4 432.1,577.3 444.2,602.4 452.9,611 459.8,614.5 478.8,617.1 492.7,617.4" fill="none" stroke="#8c8cf5" stroke-width="2" stroke-linejoin="round" />
<polyline points="416.2,529.4 426.9,537.5 440.4,546.9 451.1,555.7 457.9,564.4 463.3,572.5 469.3,583.3 477.1,592.9 492.7,610.2 501.3,617.1" fill="none" stroke="#141480" stroke-width="2" stroke-linejoin="round" stroke-dasharray="4.8 8" stroke-linecap="round"/>
</svg>
</body></html>
